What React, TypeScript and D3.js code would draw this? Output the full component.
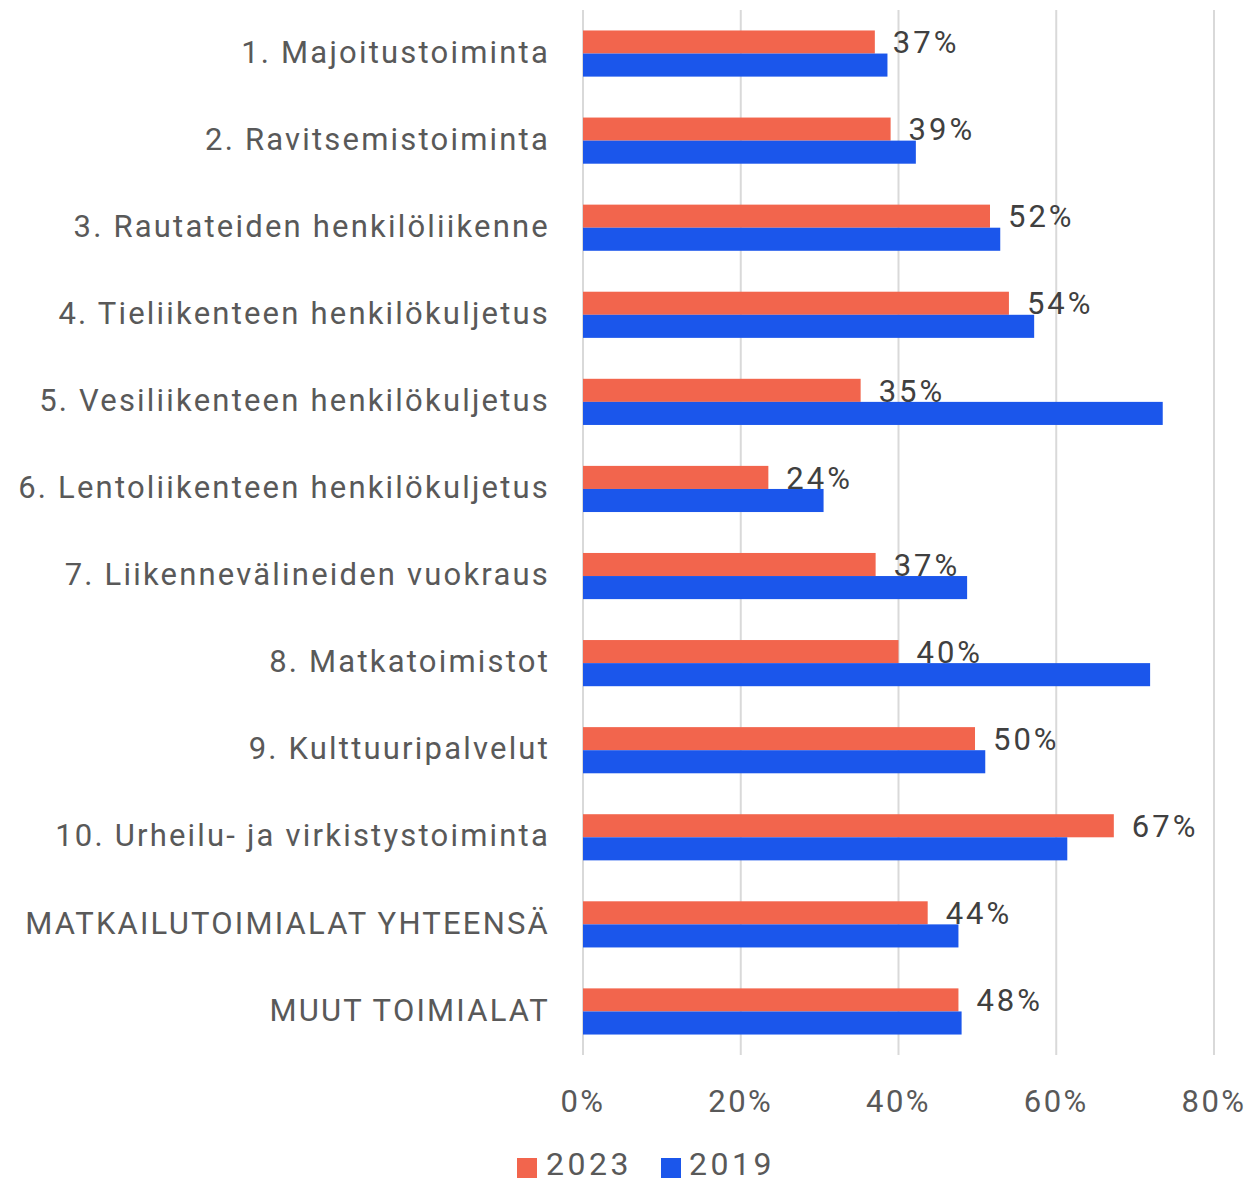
import React from "react";
import * as d3 from "d3";

const categories = [
  "1. Majoitustoiminta",
  "2. Ravitsemistoiminta",
  "3. Rautateiden henkilöliikenne",
  "4. Tieliikenteen henkilökuljetus",
  "5. Vesiliikenteen henkilökuljetus",
  "6. Lentoliikenteen henkilökuljetus",
  "7. Liikennevälineiden vuokraus",
  "8. Matkatoimistot",
  "9. Kulttuuripalvelut",
  "10. Urheilu- ja virkistystoiminta",
  "MATKAILUTOIMIALAT YHTEENSÄ",
  "MUUT TOIMIALAT",
];

// share, %
const values2023 = [37, 39, 51.6, 54, 35.2, 23.5, 37.1, 40, 49.7, 67.3, 43.7, 47.6];
const values2019 = [38.6, 42.2, 52.9, 57.2, 73.5, 30.5, 48.7, 71.9, 51, 61.4, 47.6, 48];
const xTicks = [0, 20, 40, 60, 80];
const seriesNames = ["2023", "2019"];

const W = 1257;
const H = 1182;
const FONT = "Roboto, 'Noto Sans', sans-serif";
const ORANGE = "#F2654D";
const BLUE = "#1B56EB";

export default function App() {
  const margin = { top: 10, left: 583, right: 43, bottom: 127 };

  const x = d3.scaleLinear().domain([0, 80]).range([margin.left, W - margin.right]);
  const y = d3
    .scaleBand<string>()
    .domain(categories)
    .range([margin.top, H - margin.bottom])
    .paddingInner(0.47)
    .paddingOuter(0.235);
  const sub = d3.scaleBand<string>().domain(seriesNames).range([0, y.bandwidth()]);

  const fmt = (v: number) => `${Math.round(v)}%`;

  return (
    <svg
      width={W}
      height={H}
      style={{ position: "absolute", left: 0, top: 0, background: "#fff" }}
      fontFamily={FONT}
    >
      {/* gridlines */}
      {xTicks.map((t) => (
        <line
          key={t}
          x1={x(t)}
          x2={x(t)}
          y1={margin.top}
          y2={H - margin.bottom}
          stroke="#D9D9D9"
          strokeWidth={2}
        />
      ))}

      {/* bars */}
      {categories.map((c, i) => (
        <g key={c}>
          <rect
            x={x(0)}
            y={(y(c) || 0) + (sub("2023") || 0)}
            width={x(values2023[i]) - x(0)}
            height={sub.bandwidth()}
            fill={ORANGE}
          />
          <rect
            x={x(0)}
            y={(y(c) || 0) + (sub("2019") || 0)}
            width={x(values2019[i]) - x(0)}
            height={sub.bandwidth()}
            fill={BLUE}
          />
          <text
            x={x(values2023[i]) + 18}
            y={(y(c) || 0) + (sub("2023") || 0) + sub.bandwidth() / 2 + 3}
            dominantBaseline="middle"
            fontSize={31}
            letterSpacing={3}
            fill="#404040"
          >
            {fmt(values2023[i])}
          </text>
          <text
            x={x(0) - 33}
            y={(y(c) || 0) + y.bandwidth() / 2 + 1}
            textAnchor="end"
            dominantBaseline="middle"
            fontSize={31}
            letterSpacing={2.2}
            fill="#595959"
          >
            {c}
          </text>
        </g>
      ))}

      {/* x tick labels */}
      {xTicks.map((t) => (
        <text
          key={t}
          x={x(t)}
          y={1104}
          textAnchor="middle"
          dominantBaseline="middle"
          fontSize={31}
          letterSpacing={2.5}
          fill="#595959"
        >
          {t}%
        </text>
      ))}

      {/* legend */}
      <rect x={517} y={1158} width={20} height={20} fill={ORANGE} />
      <text x={546} y={1167} dominantBaseline="middle" fontSize={32} letterSpacing={3.5} fill="#595959">
        2023
      </text>
      <rect x={661} y={1158} width={20} height={20} fill={BLUE} />
      <text x={689} y={1167} dominantBaseline="middle" fontSize={32} letterSpacing={3.5} fill="#595959">
        2019
      </text>
    </svg>
  );
}
